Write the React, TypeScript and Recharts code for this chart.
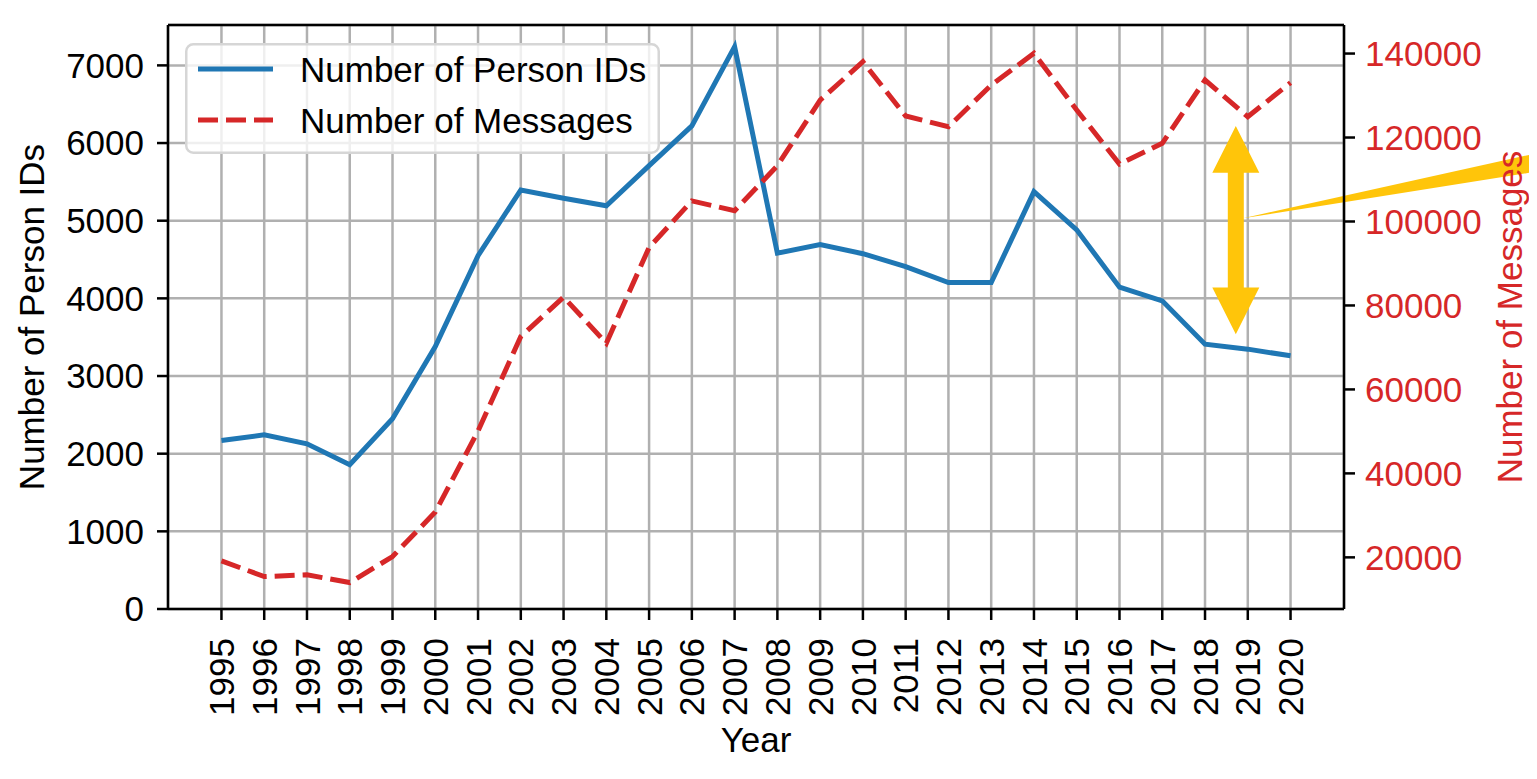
import React from 'react';
import { LineChart, Line, XAxis, YAxis, CartesianGrid, Legend, ReferenceLine } from 'recharts';

// ---- data ----
const years = [1995, 1996, 1997, 1998, 1999, 2000, 2001, 2002, 2003, 2004, 2005, 2006, 2007, 2008, 2009, 2010, 2011, 2012, 2013, 2014, 2015, 2016, 2017, 2018, 2019, 2020];
const personIds = [2170, 2243, 2127, 1857, 2450, 3380, 4550, 5396, 5290, 5192, 5710, 6220, 7241, 4582, 4692, 4575, 4409, 4203, 4203, 5375, 4882, 4144, 3968, 3410, 3346, 3260];
const messages = [19170, 15430, 15830, 14000, 20190, 30800, 50100, 72600, 82000, 71000, 93800, 104900, 102570, 113300, 128900, 138050, 125120, 122570, 132500, 140050, 126550, 113690, 118620, 133690, 124950, 133050];

const xTicks = years;
const leftTicks = [0, 1000, 2000, 3000, 4000, 5000, 6000, 7000];
const rightTicks = [20000, 40000, 60000, 80000, 100000, 120000, 140000];
const xDomain = [1993.75, 2021.25];
const leftDomain = [0, 7520];
const rightDomain = [7700, 146800];

// annotation (yellow arrow + pointer), in data units of the left axis
const arrowSegment = [{ x: 2018.72, y: 6220 }, { x: 2018.72, y: 3539 }];
const pointerSegment = [{ x: 2018.89, y: 5032 }, { x: 2025.75, y: 5750 }];

const data = years.map((year, i) => ({ year, personIds: personIds[i], messages: messages[i] }));

const FONT = '"Liberation Sans", Arial, Helvetica, sans-serif';
const FS = 35;
const BLUE = '#1f77b4';
const RED = '#d62728';
const YELLOW = '#ffc50a';
const GRID = '#b0b0b0';

const XTick = (props: any) => {
  const { x, y, payload } = props;
  return (
    <text
      x={x}
      y={y}
      transform={`rotate(-90 ${x} ${y})`}
      textAnchor="end"
      dy="0.36em"
      fontSize={FS}
      fontFamily={FONT}
      fill="#000"
    >
      {payload.value}
    </text>
  );
};

const LegendBox = () => (
  <svg width={475} height={111} style={{ display: 'block', overflow: 'visible' }}>
    <rect x={1.25} y={1.25} width={472.5} height={108.5} rx={7} ry={7} fill="rgba(255,255,255,0.8)" stroke="#d6d6d6" strokeWidth={2.5} />
    <line x1={13} x2={88} y1={26} y2={26} stroke={BLUE} strokeWidth={5} />
    <text x={115} y={38.5} fontSize={FS} fontFamily={FONT} fill="#000">Number of Person IDs</text>
    <line x1={13} x2={88} y1={77} y2={77} stroke={RED} strokeWidth={5} strokeDasharray="20 8" />
    <text x={115} y={89.5} fontSize={FS} fontFamily={FONT} fill="#000">Number of Messages</text>
  </svg>
);

const DoubleArrow = (props: any) => {
  const { x1, y1, x2, y2 } = props;
  const cx = (x1 + x2) / 2;
  const top = Math.min(y1, y2);
  const bot = Math.max(y1, y2);
  const hl = 46.7;
  const hw = 23.5;
  const sw = 8;
  const pts = [
    [cx, top],
    [cx + hw, top + hl],
    [cx + sw, top + hl],
    [cx + sw, bot - hl],
    [cx + hw, bot - hl],
    [cx, bot],
    [cx - hw, bot - hl],
    [cx - sw, bot - hl],
    [cx - sw, top + hl],
    [cx - hw, top + hl],
  ]
    .map((p) => p.join(','))
    .join(' ');
  return <polygon points={pts} fill={YELLOW} />;
};

const Pointer = (props: any) => {
  const { x1, y1, x2, y2 } = props;
  const hw = 9.2;
  const pts = `${x1},${y1} ${x2},${y2 - hw} ${x2},${y2 + hw}`;
  return <polygon points={pts} fill={YELLOW} />;
};

export default function App() {
  return (
    <div style={{ width: 1529, height: 763, fontFamily: FONT }}>
      <LineChart
        width={1529}
        height={763}
        data={data}
        margin={{ top: 17, right: 0, bottom: 0, left: 0 }}
        style={{ fontFamily: FONT }}
      >
        <CartesianGrid xAxisId="x" yAxisId="left" stroke={GRID} strokeWidth={2.5} />
        <XAxis
          xAxisId="x"
          dataKey="year"
          type="number"
          domain={xDomain}
          ticks={xTicks}
          allowDataOverflow
          interval={0}
          height={162}
          tickSize={11}
          tickMargin={18}
          tick={<XTick />}
          axisLine={{ stroke: '#000', strokeWidth: 2.5 }}
          tickLine={{ stroke: '#000', strokeWidth: 2.5 }}
          label={{ value: 'Year', position: 'insideBottom', offset: 19, fill: '#000', fontSize: FS, fontFamily: FONT }}
        />
        <YAxis
          yAxisId="left"
          orientation="left"
          width={160}
          domain={leftDomain}
          ticks={leftTicks}
          allowDataOverflow
          interval={0}
          tickSize={11}
          tickMargin={13}
          tick={{ fill: '#000', fontSize: FS, fontFamily: FONT }}
          axisLine={{ stroke: '#000', strokeWidth: 2.5 }}
          tickLine={{ stroke: '#000', strokeWidth: 2.5 }}
          label={{
            value: 'Number of Person IDs',
            angle: -90,
            position: 'insideLeft',
            offset: 24,
            fill: '#000',
            fontSize: FS,
            fontFamily: FONT,
            style: { textAnchor: 'middle' },
          }}
        />
        <YAxis
          yAxisId="right"
          orientation="right"
          width={193}
          domain={rightDomain}
          ticks={rightTicks}
          allowDataOverflow
          interval={0}
          tickSize={11}
          tickMargin={10}
          tick={{ fill: RED, fontSize: FS, fontFamily: FONT }}
          axisLine={{ stroke: '#000', strokeWidth: 2.5 }}
          tickLine={{ stroke: '#000', strokeWidth: 2.5 }}
          label={{
            value: 'Number of Messages',
            angle: -90,
            position: 'insideRight',
            offset: 27,
            fill: RED,
            fontSize: FS,
            fontFamily: FONT,
            style: { textAnchor: 'middle' },
          }}
        />
        <Line
          xAxisId="x"
          yAxisId="left"
          type="linear"
          dataKey="personIds"
          name="Number of Person IDs"
          stroke={BLUE}
          strokeWidth={5}
          dot={false}
          activeDot={false}
          isAnimationActive={false}
        />
        <Line
          xAxisId="x"
          yAxisId="right"
          type="linear"
          dataKey="messages"
          name="Number of Messages"
          stroke={RED}
          strokeWidth={5}
          strokeDasharray="20 8"
          dot={false}
          activeDot={false}
          isAnimationActive={false}
        />
        <ReferenceLine
          xAxisId="x"
          yAxisId="left"
          y={leftDomain[1]}
          stroke="#000"
          strokeWidth={2.5}
          ifOverflow="visible"
        />
        <ReferenceLine
          xAxisId="x"
          yAxisId="left"
          segment={arrowSegment}
          ifOverflow="visible"
          shape={<DoubleArrow />}
        />
        <ReferenceLine
          xAxisId="x"
          yAxisId="left"
          segment={pointerSegment}
          ifOverflow="visible"
          shape={<Pointer />}
        />
        <Legend
          layout="vertical"
          align="center"
          verticalAlign="middle"
          content={<LegendBox />}
          wrapperStyle={{ position: 'absolute', left: 177, top: 35, width: 475, height: 111, right: 'auto', bottom: 'auto' }}
        />
      </LineChart>
    </div>
  );
}
